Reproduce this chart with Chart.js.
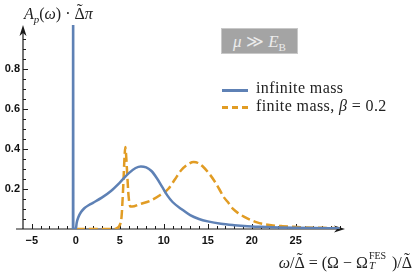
<!DOCTYPE html>
<html>
<head>
<meta charset="utf-8">
<script src="https://cdn.jsdelivr.net/npm/chart.js@4.4.1/dist/chart.umd.min.js"></script>
<style>
  html, body { margin: 0; padding: 0; background: #fff; }
  #wrap { position: relative; width: 416px; height: 272px; overflow: hidden; }
  #chart { position: absolute; left: 0; top: 0; }
  .tex { position: absolute; font-family: "Liberation Serif", "Times New Roman", serif; color: #222; white-space: nowrap; line-height: 1; }
  .tex sub { font-size: 0.68em; line-height: 0; }
  .acc { position: relative; display: inline-block; }
  .acc::after { content: "\02DC"; position: absolute; left: 50%; top: -0.3em; transform: translateX(-50%); font-size: 1.1em; }
  .ss { position: relative; display: inline-block; width: 24px; height: 1em; }
  .ss .up { position: absolute; left: 1px; top: -1px; font-size: 10px; }
  .ss .dn { position: absolute; left: 1px; top: 8px; font-size: 11px; }
  #regime { left: 221px; top: 28px; width: 75px; height: 24px; background: #a4a4a4; border: 1px solid #c8c8c8;
            color: #ececec; font-size: 17px; display: flex; align-items: center; justify-content: center; }
  .key { position: absolute; left: 222px; width: 26px; height: 3px; }
  .lab { left: 256px; font-size: 16px; letter-spacing: 0.4px; }
</style>
</head>
<body>
<div id="wrap">
  <canvas id="chart" width="416" height="272"></canvas>
  <div class="tex" style="left:24px; top:6px; font-size:16px;"><i>A</i><sub><i>p</i></sub>(<i>ω</i>) · <span class="acc">Δ</span><i>π</i></div>
  <div class="tex" style="right:4px; top:252px; font-size:16px;"><i>ω</i>/<span class="acc">Δ</span> = (Ω − Ω<span class="ss"><span class="up">FES</span><i class="dn">T</i></span>)/<span class="acc">Δ</span></div>
  <div class="tex" id="regime"><span><i>μ</i> ≫ <i>E</i><sub style="font-size:11px">B</sub></span></div>
  <div class="key" style="top:89px; background:#5E81B5;"></div>
  <div class="key" style="top:106px; background:repeating-linear-gradient(90deg,#E19C24 0 6px,transparent 6px 10px);"></div>
  <div class="tex lab" style="top:80px;">infinite mass</div>
  <div class="tex lab" style="top:98px;">finite mass, <i>β</i> = 0.2</div>
</div>
<script>
// infinite mass: delta peak just below 0, then continuum
const omegaInfinite = [-0.32, -0.3, -0.28, 0, 0.1, 0.3, 0.6, 1.0, 1.5, 2.0, 3.0, 4.0, 5.0, 6.0, 6.8, 7.4, 8.0, 8.6, 9.2, 9.8,
  10.4, 11.0, 12.0, 13.0, 14.0, 15.0, 16.5, 18.0, 19.5, 21.0, 23.0, 25.0, 27.0, 30.0];
const specInfinite = [0, 1.2, 0, 0, 0.03, 0.06, 0.085, 0.105, 0.12, 0.132, 0.158, 0.19, 0.232, 0.278, 0.305, 0.313, 0.308, 0.29, 0.255, 0.212,
  0.168, 0.135, 0.1, 0.069, 0.05, 0.038, 0.026, 0.019, 0.014, 0.011, 0.008, 0.006, 0.005, 0.004];

// finite mass, beta = 0.2
const omegaFinite = [0, 4.3, 4.7, 5.0, 5.2, 5.4, 5.55, 5.63, 5.72, 5.85, 6.0, 6.2, 6.4, 7.3, 8.5, 9.6, 10.5, 11.3, 12.0, 12.7,
  13.4, 13.9, 14.5, 15.1, 15.7, 16.3, 16.8, 17.4, 17.9, 18.5, 19.1, 20.0, 20.6, 21.5, 22.4, 23.5, 24.7, 26.0, 28.0, 30.0];
const specFinite = [0, 0, 0.005, 0.02, 0.06, 0.22, 0.37, 0.41, 0.37, 0.27, 0.165, 0.112, 0.112, 0.125, 0.142, 0.17, 0.2, 0.25, 0.295, 0.322,
  0.335, 0.33, 0.31, 0.28, 0.244, 0.2, 0.161, 0.128, 0.099, 0.078, 0.062, 0.043, 0.033, 0.024, 0.018, 0.014, 0.011, 0.008, 0.006, 0.004];

const xTickLabels = [-5, 0, 5, 10, 15, 20, 25];
const yTickLabels = [0.2, 0.4, 0.6, 0.8];

const blue = '#5E81B5';
const orange = '#E19C24';
const axisColor = '#1a1a1a';
const xAxisStart = -6.8;

const toPoints = (xs, ys) => xs.map((x, i) => ({x, y: ys[i]}));
const isLabel = (list, v) => list.some(l => Math.abs(l - v) < 1e-6);

const xMinor = [];
for (let v = -5; v <= 30; v++) xMinor.push(v);
const yMinor = [];
for (let k = 1; k <= 20; k++) yMinor.push(+(k * 0.05).toFixed(2));

// axis lines, arrowheads and inward tick marks (Mathematica style)
const axesPlugin = {
  id: 'axesPlugin',
  beforeDatasetsDraw(chart) {
    const {ctx, chartArea, scales: {x, y}} = chart;
    const y0 = y.getPixelForValue(0);
    const x0 = chartArea.left;
    ctx.save();
    ctx.strokeStyle = axisColor;
    ctx.fillStyle = axisColor;
    ctx.lineWidth = 1.2;

    ctx.beginPath();
    ctx.moveTo(x.getPixelForValue(xAxisStart), y0);
    ctx.lineTo(chartArea.right - 6, y0);
    ctx.moveTo(x0, y0);
    ctx.lineTo(x0, chartArea.top + 6);
    ctx.stroke();

    ctx.beginPath();
    ctx.moveTo(chartArea.right, y0);
    ctx.lineTo(chartArea.right - 11, y0 - 3.5);
    ctx.lineTo(chartArea.right - 8, y0);
    ctx.lineTo(chartArea.right - 11, y0 + 3.5);
    ctx.closePath();
    ctx.moveTo(x0, chartArea.top);
    ctx.lineTo(x0 - 3.5, chartArea.top + 11);
    ctx.lineTo(x0, chartArea.top + 8);
    ctx.lineTo(x0 + 3.5, chartArea.top + 11);
    ctx.closePath();
    ctx.fill();

    ctx.lineWidth = 1;
    ctx.beginPath();
    x.ticks.forEach(t => {
      const px = Math.round(x.getPixelForValue(t.value)) + 0.5;
      ctx.moveTo(px, y0);
      ctx.lineTo(px, y0 - (isLabel(xTickLabels, t.value) ? 5 : 3));
    });
    y.ticks.forEach(t => {
      if (t.value > 0.99) return;
      const py = Math.round(y.getPixelForValue(t.value)) + 0.5;
      ctx.moveTo(x0, py);
      ctx.lineTo(x0 + (isLabel(yTickLabels, t.value) ? 5 : 3), py);
    });
    ctx.stroke();
    ctx.restore();
  }
};

const tickFont = {family: '"Liberation Sans", Arial, sans-serif', size: 11, weight: 'bold'};

new Chart(document.getElementById('chart'), {
  type: 'line',
  data: {
    datasets: [
      {
        label: 'infinite mass',
        data: toPoints(omegaInfinite, specInfinite),
        borderColor: blue,
        borderWidth: 2.5,
        pointRadius: 0,
        cubicInterpolationMode: 'monotone'
      },
      {
        label: 'finite mass, β = 0.2',
        data: toPoints(omegaFinite, specFinite),
        borderColor: orange,
        borderWidth: 2.5,
        borderDash: [9, 4],
        pointRadius: 0,
        cubicInterpolationMode: 'monotone'
      }
    ]
  },
  options: {
    responsive: false,
    animation: false,
    layout: {padding: {left: 0, top: 25, right: 71, bottom: 0}},
    plugins: {legend: {display: false}, tooltip: {enabled: false}},
    scales: {
      x: {
        type: 'linear',
        min: -6,
        max: 30.6,
        afterBuildTicks: s => { s.ticks = xMinor.map(v => ({value: v})); },
        afterFit: s => { s.height = 43; },
        grid: {display: false, drawTicks: false},
        border: {display: false},
        ticks: {
          autoSkip: false,
          maxRotation: 0,
          padding: 5,
          color: '#111',
          font: tickFont,
          callback: v => isLabel(xTickLabels, v) ? String(v).replace('-', '\u2212') : ''
        }
      },
      y: {
        type: 'linear',
        min: 0,
        max: 1.02,
        afterBuildTicks: s => { s.ticks = yMinor.map(v => ({value: v})); },
        afterFit: s => { s.width = 23; },
        grid: {display: false, drawTicks: false},
        border: {display: false},
        ticks: {
          autoSkip: false,
          padding: 3,
          color: '#111',
          font: tickFont,
          callback: v => isLabel(yTickLabels, v) ? v.toFixed(1) : ''
        }
      }
    }
  },
  plugins: [axesPlugin]
});
</script>
</body>
</html>
